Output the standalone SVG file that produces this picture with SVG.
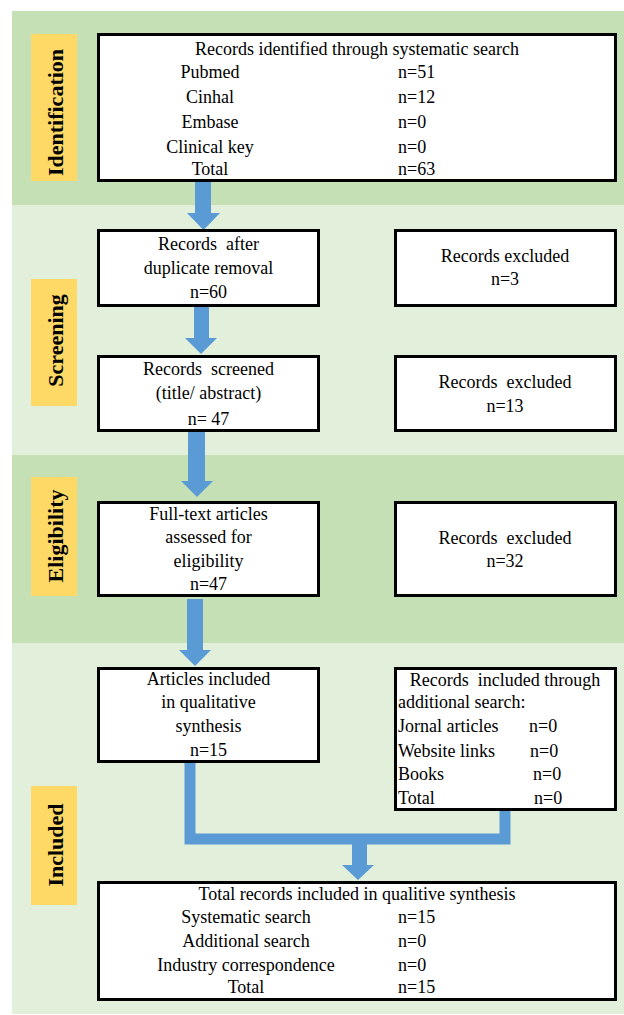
<svg xmlns="http://www.w3.org/2000/svg" width="624" height="1015" viewBox="0 0 624 1015">
<style>
.bd{fill:#C5E0B4}.bl{fill:#E2EFDA}
.lab{fill:#FFD966}
.lt{font-family:"Liberation Serif","Times New Roman",serif;font-size:22px;font-weight:bold;fill:#000;text-anchor:middle}
.box{fill:#fff;stroke:#000;stroke-width:3}
.t{font-family:"Liberation Serif","Times New Roman",serif;font-size:18px;fill:#000}
.c{text-anchor:middle}
.arr{fill:#5B9BD5}
.con{fill:none;stroke:#5B9BD5;stroke-width:11;stroke-linejoin:miter}
</style>
<rect width="624" height="1015" fill="#fff"/>
<g id="bands">
<rect class="bd" x="12" y="11" width="612" height="194"/>
<rect class="bl" x="12" y="205" width="612" height="250"/>
<rect class="bd" x="12" y="455" width="612" height="188"/>
<rect class="bl" x="12" y="643" width="612" height="371"/>
</g>
<g id="label-identification">
<rect class="lab" x="31" y="34" width="46" height="147"/>
<text class="lt" transform="translate(63,112.5) rotate(-90)">Identification</text>
</g>
<g id="label-screening">
<rect class="lab" x="31" y="279" width="46" height="127"/>
<text class="lt" transform="translate(63,340.5) rotate(-90)">Screening</text>
</g>
<g id="label-eligibility">
<rect class="lab" x="31" y="477" width="46" height="119"/>
<text class="lt" transform="translate(63,536) rotate(-90)">Eligibility</text>
</g>
<g id="label-included">
<rect class="lab" x="31" y="786" width="46" height="119"/>
<text class="lt" transform="translate(63,845) rotate(-90)">Included</text>
</g>
<g id="connectors">
<polygon class="arr" points="195,182 211,182 211,213 220,213 203.5,230 187,213 195,213"/>
<polygon class="arr" points="194,307 209,307 209,338 217,338 201,354 185,338 194,338"/>
<polygon class="arr" points="188,432 205,432 205,481 213,481 197,497 181,481 188,481"/>
<polygon class="arr" points="187,599 203,599 203,650 211,650 195,666 179,650 187,650"/>
<path class="con" d="M190,763 V839 H505 V811"/>
<polygon class="arr" points="352,844 367,844 367,865 374,865 358,880 342,865 352,865"/>
</g>
<g id="n-identified">
<rect class="box" x="98.5" y="34.5" width="517" height="146"/>
<text class="t c" x="357" y="55">Records identified through systematic search</text>
<text class="t c" x="210" y="78">Pubmed</text><text class="t" x="398" y="78">n=51</text>
<text class="t c" x="210" y="103">Cinhal</text><text class="t" x="398" y="103">n=12</text>
<text class="t c" x="210" y="128">Embase</text><text class="t" x="398" y="128">n=0</text>
<text class="t c" x="210" y="153">Clinical key</text><text class="t" x="398" y="153">n=0</text>
<text class="t c" x="210" y="175">Total</text><text class="t" x="398" y="175">n=63</text>
</g>
<g id="n-duplicates">
<rect class="box" x="98.5" y="230.5" width="220" height="75"/>
<text class="t c" x="208.5" y="250" xml:space="preserve">Records  after</text>
<text class="t c" x="208.5" y="274">duplicate removal</text>
<text class="t c" x="208.5" y="298">n=60</text>
</g>
<g id="n-excluded1">
<rect class="box" x="395.5" y="230.5" width="220" height="75"/>
<text class="t c" x="505" y="262">Records excluded</text>
<text class="t c" x="505" y="285">n=3</text>
</g>
<g id="n-screened">
<rect class="box" x="98.5" y="356.5" width="220" height="74"/>
<text class="t c" x="208.5" y="375" xml:space="preserve">Records  screened</text>
<text class="t c" x="208.5" y="399">(title/ abstract)</text>
<text class="t c" x="208.5" y="425">n= 47</text>
</g>
<g id="n-excluded2">
<rect class="box" x="395.5" y="356.5" width="220" height="74"/>
<text class="t c" x="505" y="388" xml:space="preserve">Records  excluded</text>
<text class="t c" x="505" y="412">n=13</text>
</g>
<g id="n-fulltext">
<rect class="box" x="98.5" y="502.5" width="220" height="93"/>
<text class="t c" x="208.5" y="520">Full-text articles</text>
<text class="t c" x="208.5" y="543">assessed for</text>
<text class="t c" x="208.5" y="567">eligibility</text>
<text class="t c" x="208.5" y="590">n=47</text>
</g>
<g id="n-excluded3">
<rect class="box" x="395.5" y="502.5" width="220" height="93"/>
<text class="t c" x="505" y="544" xml:space="preserve">Records  excluded</text>
<text class="t c" x="505" y="567">n=32</text>
</g>
<g id="n-articles">
<rect class="box" x="98.5" y="668.5" width="220" height="93"/>
<text class="t c" x="208.5" y="685">Articles included</text>
<text class="t c" x="208.5" y="708">in qualitative</text>
<text class="t c" x="208.5" y="732">synthesis</text>
<text class="t c" x="208.5" y="756">n=15</text>
</g>
<g id="n-additional">
<rect class="box" x="395.5" y="668.5" width="220" height="141"/>
<text class="t c" x="505" y="686" xml:space="preserve">Records  included through</text>
<text class="t" x="398" y="708">additional search:</text>
<text class="t" x="398" y="732">Jornal articles</text><text class="t" x="529" y="732">n=0</text>
<text class="t" x="398" y="757">Website links</text><text class="t" x="530" y="757">n=0</text>
<text class="t" x="398" y="780">Books</text><text class="t" x="533" y="780">n=0</text>
<text class="t" x="398" y="804">Total</text><text class="t" x="534" y="804">n=0</text>
</g>
<g id="n-total">
<rect class="box" x="98.5" y="882.5" width="517" height="117"/>
<text class="t c" x="357" y="900">Total records included in qualitive synthesis</text>
<text class="t c" x="246" y="923">Systematic search</text><text class="t" x="398" y="923">n=15</text>
<text class="t c" x="246" y="947">Additional search</text><text class="t" x="398" y="947">n=0</text>
<text class="t c" x="246" y="971">Industry correspondence</text><text class="t" x="398" y="971">n=0</text>
<text class="t c" x="246" y="993">Total</text><text class="t" x="398" y="993">n=15</text>
</g>
</svg>
